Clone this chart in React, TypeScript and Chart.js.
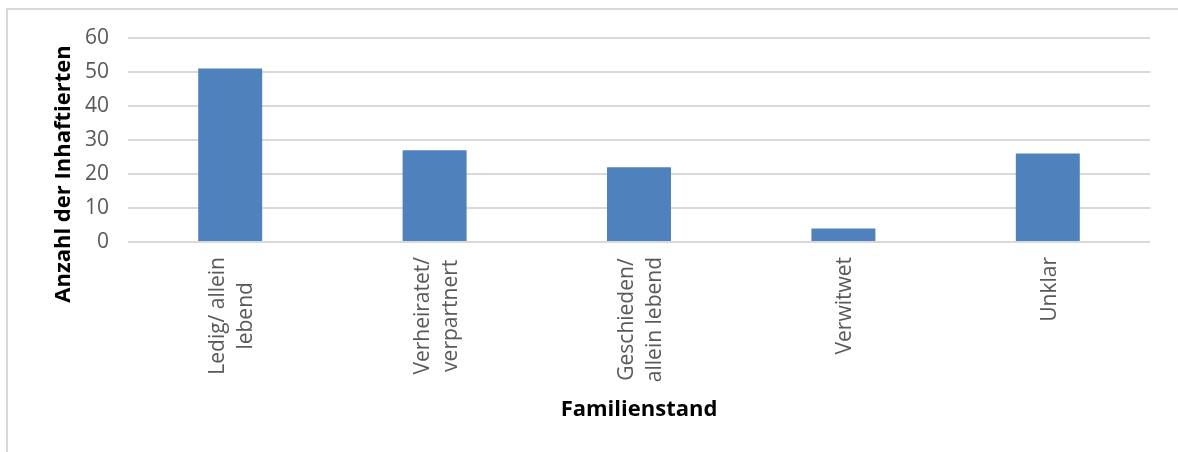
import React, { useEffect, useRef } from 'react';
import { Chart, registerables } from 'chart.js';

Chart.register(...registerables);

// Marital status categories (each entry = the lines of its axis label)
const categoryLines: string[][] = [
  ['Ledig/ allein', 'lebend'],
  ['Verheiratet/', 'verpartnert'],
  ['Geschieden/', 'allein lebend'],
  ['Verwitwet'],
  ['Unklar'],
];

// Number of inmates per category
const inmateCounts: number[] = [51, 27, 22, 4, 26];

// Value axis
const yMin = 0;
const yMax = 60;
const yStep = 10;

const yTitle = 'Anzahl der Inhaftierten';
const xTitle = 'Familienstand';

const FONT = '"Open Sans", "Noto Sans", sans-serif';
const LABEL_COLOR = '#595959';
const GRID_COLOR = '#d9d9d9';
const BAR_COLOR = '#4f81bd';

// Draws the rotated, centred multi-line category labels and both axis titles.
const axisTextPlugin = {
  id: 'axisText',
  afterDraw(chart: any) {
    const { ctx, chartArea, scales } = chart;
    const x = scales.x;
    ctx.save();

    // category labels: read bottom-to-top, block anchored just below the axis
    ctx.font = `21px ${FONT}`;
    ctx.fillStyle = LABEL_COLOR;
    ctx.textAlign = 'center';
    ctx.textBaseline = 'alphabetic';
    const lineGap = 28;
    categoryLines.forEach((lines, i) => {
      const px = x.getPixelForTick(i);
      const w = Math.max(...lines.map((l) => ctx.measureText(l).width));
      ctx.save();
      ctx.translate(px, chartArea.bottom + 15);
      ctx.rotate(-Math.PI / 2);
      lines.forEach((line, j) => {
        const off = 8 + (j - (lines.length - 1) / 2) * lineGap;
        ctx.fillText(line, -w / 2, off);
      });
      ctx.restore();
    });

    // axis titles
    ctx.font = `bold 22px ${FONT}`;
    ctx.fillStyle = '#000000';
    ctx.textAlign = 'center';
    ctx.textBaseline = 'alphabetic';
    ctx.fillText(xTitle, (chartArea.left + chartArea.right) / 2, 416);

    ctx.save();
    ctx.translate(70, 174);
    ctx.rotate(-Math.PI / 2);
    ctx.fillText(yTitle, 0, 0);
    ctx.restore();

    ctx.restore();
  },
};

export default function App() {
  const canvasRef = useRef<HTMLCanvasElement>(null);

  useEffect(() => {
    const canvas = canvasRef.current;
    if (!canvas) return;
    const chart = new Chart(canvas, {
      type: 'bar',
      data: {
        labels: categoryLines.map((l) => l.join(' ')),
        datasets: [
          {
            data: inmateCounts,
            backgroundColor: BAR_COLOR,
            borderWidth: 0,
            categoryPercentage: 1,
            barPercentage: 0.313,
          },
        ],
      },
      options: {
        responsive: false,
        animation: false,
        devicePixelRatio: 1,
        layout: { padding: { top: 38, right: 28, left: 0, bottom: 0 } },
        plugins: {
          legend: { display: false },
          tooltip: { enabled: false },
        },
        scales: {
          x: {
            grid: { display: false },
            border: { display: false },
            ticks: { display: false },
            afterFit: (scale: any) => {
              scale.height = 210;
            },
          },
          y: {
            min: yMin,
            max: yMax,
            grid: { color: GRID_COLOR, lineWidth: 2, drawTicks: false },
            border: { display: false },
            ticks: {
              stepSize: yStep,
              padding: 19,
              color: LABEL_COLOR,
              font: { family: FONT, size: 21 },
            },
            afterFit: (scale: any) => {
              scale.width = 128;
            },
          },
        },
      },
      plugins: [axisTextPlugin],
    });
    return () => chart.destroy();
  }, []);

  return (
    <div
      style={{
        position: 'fixed',
        left: 0,
        top: 0,
        width: 1178,
        height: 452,
        background: '#ffffff',
        overflow: 'hidden',
      }}
    >
      <div
        style={{
          position: 'absolute',
          left: 6,
          top: 8,
          right: 0,
          bottom: -10,
          borderTop: `2px solid ${GRID_COLOR}`,
          borderLeft: `2px solid ${GRID_COLOR}`,
        }}
      />
      <canvas
        ref={canvasRef}
        width={1178}
        height={452}
        style={{ position: 'absolute', left: 0, top: 0 }}
      />
    </div>
  );
}
